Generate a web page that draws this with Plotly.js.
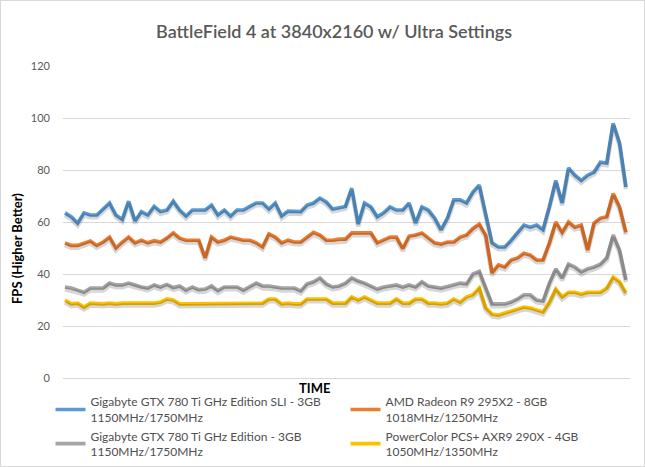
<!DOCTYPE html>
<html>
<head>
<meta charset="utf-8">
<script src="https://cdn.plot.ly/plotly-3.0.1.min.js"></script>
<style>
  html, body { margin: 0; padding: 0; background: #fff; }
  #chart { width: 643px; height: 465px; border: 1px solid #d9d9d9; }
</style>
</head>
<body>
<div id="chart"></div>
<script>
const seriesNames = [
  "Gigabyte GTX 780 Ti GHz Edition SLI - 3GB<br>1150MHz/1750MHz",
  "AMD Radeon R9 295X2 - 8GB<br>1018MHz/1250MHz",
  "Gigabyte GTX 780 Ti GHz Edition - 3GB<br>1150MHz/1750MHz",
  "PowerColor PCS+ AXR9 290X - 4GB<br>1050MHz/1350MHz"
];
const seriesColors = ["#5B9BD5", "#ED7D31", "#A5A5A5", "#FFC000"];

const sliFps = [63.5,62,59.6,63.5,62.7,62.7,65,67.3,62.7,61,
  68,60.4,64,62.7,66,64,64.6,68,64.6,62.3,
  64.6,64.6,64.6,66.5,62.7,64.6,62.3,64.6,64.6,66,
  67.3,67.3,65,67.3,62.3,64.2,64.2,64,66.5,67.3,
  69.2,67.7,65,65.5,66,73,59.2,67.3,65.8,62,
  63.5,65.8,64.6,64.6,67.3,59.6,65.8,64.6,61.5,57,
  61.5,68.5,68.5,67.3,71.5,74.2,63.5,52,50.4,50.4,
  53,56,58.8,58,58.8,57,65.8,76,67.3,80.8,
  78,76,78,79.2,83,82.7,98,90.4,73.5];

const r9295Fps = [52,51,51,52,52.7,51,52.3,54.2,50,52.3,
  54.2,52,53,52,52.8,52.3,53.8,55.8,53.8,53,
  53,53,46.2,54.2,52.3,53,54.2,53.5,53,53,
  52,50.4,55.4,54.2,52,53,52.3,52.3,54.2,56,
  55,53,53,53.4,53.4,55.8,55.8,55.8,55.8,52,
  53,54.2,54.2,49.8,54.6,55,55.8,53.8,52,51.5,
  52.3,52.3,54.2,55,57.5,59.2,55,40.4,43.5,42.7,
  45.4,46.2,48,47.3,45.4,45.4,52,60,56,60,
  58,58.8,49.2,59.6,61.5,62,71,65.8,56];

const gtxFps = [35,34.6,33.8,33,34.6,34.6,34.6,36.5,35.8,35.8,
  36.5,35.8,35,34.6,35.8,35,36,34.8,35.4,33.8,
  35,34,34.2,35.4,33.6,35,35,35,33.8,35.2,
  36.5,35.4,35.4,35,34.6,34.6,34.6,33.5,36.2,37,
  38.5,36.2,35,35.4,36.5,38.5,37.3,36.5,35.4,34.2,
  35,35.4,35.8,35,35.8,35,37,35.4,35,34.6,
  35.2,35.8,36.5,36.2,40,41,35,28.5,28.5,28.5,
  29.2,30.4,32,32,30,29.6,36.5,42,38.5,43.8,
  42.7,40.8,42,42.7,43.8,46.2,55,49.2,37.7];

const r9290xFps = [30,28.5,28.8,27.3,28.8,28.5,28.5,28.8,28.5,28.8,
  28.8,28.8,28.8,28.5,28.8,29.2,30.4,30,28.5,28.5,
  28.5,28.5,28.8,28.8,28.8,28.8,28.8,28.8,28.8,28.8,
  28.8,28.8,30.4,30.4,28.5,28.8,28.5,28.5,30.4,30.4,
  30.4,30.4,28.8,28.8,28.8,31.2,30,31.2,30,28.8,
  28.8,28.8,30.4,28.8,28.8,30.4,30.4,28.8,28.8,28.5,
  28.8,30.4,29.2,31.2,32,34.6,27,24.6,24.2,25,
  25.8,26.5,27.3,26.9,26.2,25.4,29.2,34.2,31.2,33,
  33,32.3,33,33,33,34.6,38.8,37,32.7];

const timeIndex = sliFps.map((_, i) => i + 1);
const yTicks = [0, 20, 40, 60, 80, 100, 120];
const allSeries = [sliFps, r9295Fps, gtxFps, r9290xFps];

const FONT = "Lato, 'Open Sans', sans-serif";
const traces = [];
// soft drop shadow, drawn on a slightly offset copy of the axes
allSeries.forEach((ys) => {
  traces.push({
    x: timeIndex, y: ys, type: "scatter", mode: "lines",
    xaxis: "x2", yaxis: "y2",
    line: { color: "rgba(0,0,0,0.16)", width: 4.5 },
    showlegend: false, hoverinfo: "skip"
  });
});
allSeries.forEach((ys, k) => {
  traces.push({
    x: timeIndex, y: ys, type: "scatter", mode: "lines",
    name: seriesNames[k],
    line: { color: seriesColors[k], width: 3.6 }
  });
});

const W = 643, H = 465;
const mL = 62, mR = 14, mT = 65, mB = 88;
const pw = W - mL - mR, ph = H - mT - mB;
const xRange = [0.7, 89.64];
const yRange = [0, 120];

const layout = {
  width: W, height: H,
  margin: { l: mL, r: mR, t: mT, b: mB, pad: 0, autoexpand: false },
  paper_bgcolor: "#fff", plot_bgcolor: "#fff",
  font: { family: FONT, color: "#595959", size: 11 },
  title: {
    text: "BattleField 4 at 3840x2160 w/ Ultra Settings",
    font: { family: FONT, size: 18, color: "#595959", weight: 600 },
    x: 0.518, xanchor: "center", y: 0.935, yanchor: "middle"
  },
  xaxis: {
    range: xRange, showticklabels: false, showgrid: false,
    zeroline: false, showline: true, linecolor: "#d9d9d9", linewidth: 1,
    ticks: "", fixedrange: true
  },
  yaxis: {
    range: yRange, tickvals: yTicks, ticktext: yTicks.map(String),
    showgrid: true, gridcolor: "#d9d9d9", gridwidth: 1,
    zeroline: false, showline: false, ticks: "",
    ticklabelstandoff: 12,
    tickfont: { family: FONT, size: 11, color: "#595959" }
  },
  xaxis2: { range: xRange, visible: false, overlaying: "x" },
  yaxis2: { range: [yRange[0] + 0.9, yRange[1] + 0.9], visible: false, overlaying: "y" },
  legend: {
    orientation: "h", x: -0.022, xanchor: "left", y: -0.03, yanchor: "top",
    entrywidth: 250, entrywidthmode: "pixels",
    font: { family: FONT, size: 12, color: "#505050" },
    itemwidth: 30, traceorder: "normal", bgcolor: "rgba(0,0,0,0)"
  },
  annotations: [
    {
      text: "<b>TIME</b>", xref: "paper", yref: "paper",
      x: (314 - 1 - mL) / pw, y: -(388 - 1 - (mT + ph)) / ph,
      xanchor: "center", yanchor: "middle", showarrow: false,
      font: { family: FONT, size: 13, color: "#000" }
    },
    {
      text: "<b>FPS (Higher Better)</b>", xref: "paper", yref: "paper",
      x: (17 - 1 - mL) / pw, y: 1 - (249 - 1 - mT) / ph, textangle: -90,
      xanchor: "center", yanchor: "middle", showarrow: false,
      font: { family: FONT, size: 13, color: "#000" }
    }
  ],
  showlegend: true
};

Plotly.newPlot("chart", traces, layout, { displayModeBar: false, staticPlot: true });
</script>
</body>
</html>
